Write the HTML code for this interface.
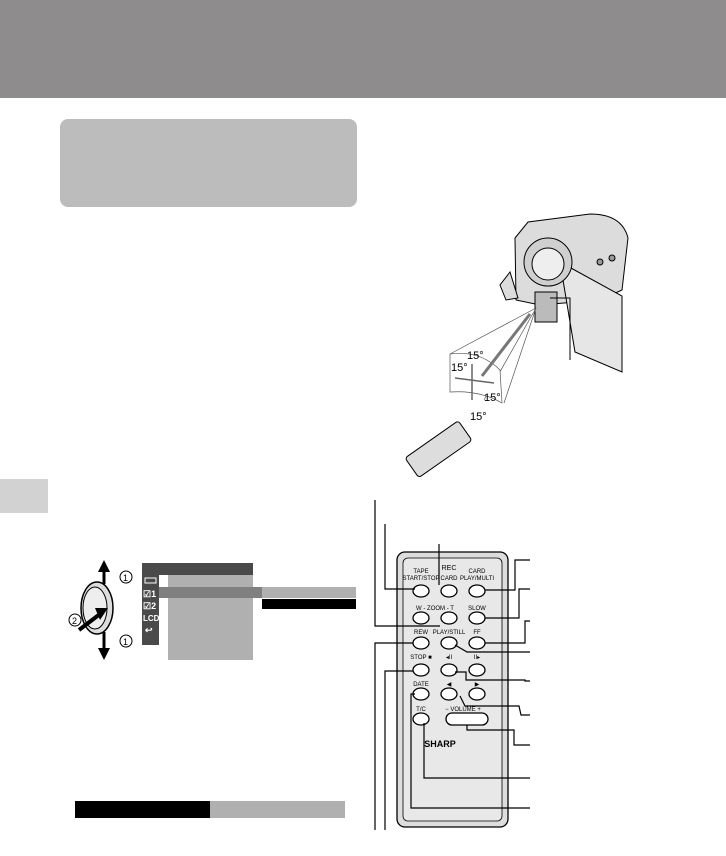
<!DOCTYPE html>
<html><head><style>
body{margin:0;background:#fff;width:726px;height:851px;overflow:hidden;font-family:"Liberation Sans",sans-serif}
</style></head><body>
<svg width="726" height="851" viewBox="0 0 726 851" xmlns="http://www.w3.org/2000/svg" font-family="Liberation Sans, sans-serif">
<rect x="0" y="0" width="726" height="98" fill="#8e8c8c"/>
<rect x="60" y="119" width="297" height="88" rx="8" fill="#bcbcbc"/>
<rect x="0" y="479" width="48" height="34" fill="#d2d2d2"/>
<rect x="75" y="801" width="135" height="17" fill="#000"/>
<rect x="210" y="801" width="135" height="17" fill="#b0b0b0"/>

<!-- menu -->
<rect x="142" y="563" width="111" height="12" fill="#4a4a4a"/>
<rect x="142" y="575" width="17" height="70" fill="#4a4a4a"/>
<rect x="168" y="575" width="85" height="85" fill="#b0b0b0"/>
<rect x="159" y="587" width="103" height="11" fill="#808080"/>
<rect x="262" y="587" width="94" height="11" fill="#b0b0b0"/>
<rect x="262" y="599" width="94" height="10" fill="#000"/>
<g fill="#fff" font-size="9" font-weight="bold">
<rect x="145" y="578" width="11" height="5" fill="none" stroke="#fff"/>
<text x="143" y="597">☑1</text><text x="143" y="609">☑2</text>
<text x="143" y="621" font-size="8">LCD</text><text x="145" y="633">↩</text>
</g>
<!-- dial -->
<ellipse cx="97" cy="608" rx="16" ry="26" fill="#ddd" stroke="#000" stroke-width="1.5"/>
<ellipse cx="95" cy="608" rx="12" ry="21" fill="#eee" stroke="#000"/>
<line x1="104" y1="632" x2="104" y2="652" stroke="#000" stroke-width="3"/>
<line x1="104" y1="584" x2="104" y2="568" stroke="#000" stroke-width="3"/>
<polygon points="98,572 104,560 110,572" fill="#000"/>
<polygon points="98,648 104,660 110,648" fill="#000"/>
<line x1="79" y1="630" x2="100" y2="614" stroke="#000" stroke-width="4"/>
<polygon points="95,608 108,608 100,620" fill="#000"/>
<circle cx="126" cy="577" r="6" fill="#fff" stroke="#000"/><text x="123" y="581" font-size="9">1</text>
<circle cx="126" cy="641" r="6" fill="#fff" stroke="#000"/><text x="123" y="645" font-size="9">1</text>
<circle cx="75" cy="620" r="6" fill="#fff" stroke="#000"/><text x="72" y="624" font-size="9">2</text>

<!-- camera -->
<g stroke="#000" stroke-width="1" fill="#dcdcdc">
<path d="M515 238 L528 222 L590 214 Q622 214 628 238 L622 290 L600 300 L540 305 L516 300 Z"/>
<path d="M560 262 L622 296 L622 372 L575 352 Z" fill="#e6e6e6"/>
<circle cx="548" cy="262" r="24" fill="#cfcfcf"/>
<circle cx="548" cy="264" r="16" fill="#eee"/>
<path d="M510 272 L500 285 L506 300 L518 298 Z"/>
<rect x="535" y="292" width="22" height="30" fill="#bbb"/>
<circle cx="600" cy="262" r="3" fill="#999"/><circle cx="612" cy="258" r="3" fill="#999"/>
</g>
<polyline points="550,298 570,298 570,360" fill="none" stroke="#000"/>
<!-- beam -->
<g stroke="#555" stroke-width="0.7" fill="none">
<line x1="536" y1="308" x2="450" y2="354"/><line x1="536" y1="308" x2="504" y2="403"/>
<line x1="536" y1="308" x2="484" y2="400"/>
<path d="M450 354 Q480 350 500 370 L502 403 Q480 390 450 392 Z" fill="#fff"/>
</g>
<line x1="530" y1="314" x2="482" y2="376" stroke="#777" stroke-width="3"/>
<g stroke="#666" stroke-width="1.5"><line x1="472" y1="364" x2="472" y2="400"/><line x1="455" y1="378" x2="494" y2="383"/></g>
<g font-size="11" fill="#000"><text x="467" y="359">15°</text><text x="451" y="371">15°</text><text x="484" y="401">15°</text><text x="470" y="420">15°</text></g>
<g transform="translate(405,458) rotate(-35)"><rect x="0" y="0" width="65" height="24" rx="3" fill="#ddd" stroke="#000"/></g>

<!-- remote -->
<rect x="397" y="552" width="111" height="275" rx="8" fill="#ddd" stroke="#000" stroke-width="1.3"/>
<rect x="403" y="558" width="99" height="263" rx="5" fill="#e8e8e8" stroke="#000" stroke-width="0.8"/>
<g font-size="6" fill="#000" text-anchor="middle">
<text x="449" y="570" font-size="7">REC</text>
<text x="421" y="573">TAPE</text><text x="421" y="580">START/STOP</text>
<text x="449" y="580">CARD</text><text x="477" y="573">CARD</text><text x="477" y="580">PLAY/MULTI</text>
<text x="435" y="610">W - ZOOM - T</text><text x="477" y="610">SLOW</text>
<text x="421" y="634">REW</text><text x="449" y="634">PLAY/STILL</text><text x="477" y="634">FF</text>
<text x="421" y="659">STOP ■</text><text x="449" y="659">◂II</text><text x="477" y="659">II▸</text>
<text x="421" y="686">DATE</text><text x="449" y="686">◀</text><text x="477" y="686">▶</text>
<text x="421" y="711">T/C</text><text x="463" y="711">−  VOLUME  +</text>
<text x="440" y="747" font-size="9" font-weight="bold">SHARP</text>
</g>
<g fill="#fff" stroke="#000" stroke-width="1.3">
<ellipse cx="421" cy="591" rx="8" ry="6"/><ellipse cx="449" cy="591" rx="8" ry="6"/><ellipse cx="477" cy="591" rx="8" ry="6"/>
<ellipse cx="421" cy="618" rx="8" ry="6"/><ellipse cx="449" cy="618" rx="8" ry="6"/><ellipse cx="477" cy="618" rx="8" ry="6"/>
<ellipse cx="421" cy="643" rx="8" ry="6"/><ellipse cx="449" cy="643" rx="8" ry="6"/><ellipse cx="477" cy="643" rx="8" ry="6"/>
<ellipse cx="421" cy="670" rx="8" ry="6"/><ellipse cx="449" cy="670" rx="8" ry="6"/><ellipse cx="477" cy="670" rx="8" ry="6"/>
<ellipse cx="421" cy="694" rx="8" ry="6"/><ellipse cx="449" cy="694" rx="8" ry="6"/><ellipse cx="477" cy="694" rx="8" ry="6"/>
<ellipse cx="421" cy="719" rx="8" ry="6"/><rect x="446" y="713" width="42" height="12" rx="6"/>
</g>
<g fill="none" stroke="#000" stroke-width="1.2">
<polyline points="375,500 375,626 440,626"/>
<polyline points="385,524 385,589 415,589"/>
<polyline points="439,544 439,585"/>
<polyline points="375,830 375,643 413,643"/>
<polyline points="385,830 385,671 413,671"/>
<polyline points="530,560 515,560 515,590 485,590"/>
<polyline points="530,589 519,589 519,618 485,618"/>
<polyline points="530,621 525,621 525,643 485,643"/>
<polyline points="530,652 467,652 455,645"/>
<polyline points="530,681 525,681 525,680 466,680 466,672 455,672"/>
<polyline points="530,715 521,715 519,706 465,706 460,696"/>
<polyline points="530,745 514,745 514,730 467,730 467,725"/>
<polyline points="530,778 424,778 424,723"/>
<polyline points="530,808 411,808 411,694 415,694"/>
</g>
</svg>
</body></html>
